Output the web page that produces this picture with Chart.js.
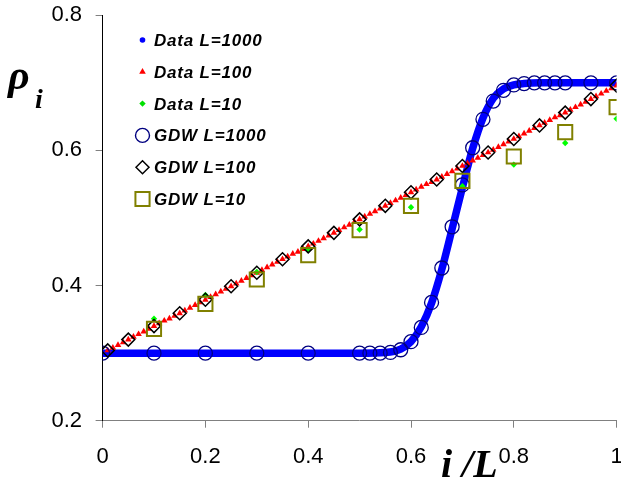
<!DOCTYPE html>
<html>
<head>
<meta charset="utf-8">
<script src="https://cdn.jsdelivr.net/npm/chart.js@4.4.1/dist/chart.umd.min.js"></script>
<style>
  html, body { margin: 0; padding: 0; background: #fff; }
  #wrap { position: relative; width: 621px; height: 492px; }
</style>
</head>
<body>
<div id="wrap"><canvas id="c" width="621" height="492"></canvas></div>
<script>
// ---- series names ----
const seriesNames = ["Data L=1000", "Data L=100", "Data L=10", "GDW L=1000", "GDW L=100", "GDW L=10"];

// ---- Data L=1000 (dense curve) ----
const dataL1000X = [0, 0.1, 0.2, 0.3, 0.4, 0.5, 0.55, 0.58, 0.6, 0.62, 0.64, 0.66, 0.68, 0.7, 0.71, 0.72, 0.74, 0.76, 0.78, 0.8, 0.82, 0.85, 0.9, 1.0];
const dataL1000Y = [0.3, 0.3, 0.3, 0.3, 0.3, 0.3, 0.301, 0.306, 0.317, 0.339, 0.374, 0.424, 0.484, 0.545, 0.575, 0.603, 0.648, 0.677, 0.691, 0.697, 0.699, 0.7, 0.7, 0.7];

// ---- Data L=100 ----
const dataL100X = [0.01,0.02,0.03,0.04,0.05,0.06,0.07,0.08,0.09,0.10,
  0.11,0.12,0.13,0.14,0.15,0.16,0.17,0.18,0.19,0.20,
  0.21,0.22,0.23,0.24,0.25,0.26,0.27,0.28,0.29,0.30,
  0.31,0.32,0.33,0.34,0.35,0.36,0.37,0.38,0.39,0.40,
  0.41,0.42,0.43,0.44,0.45,0.46,0.47,0.48,0.49,0.50,
  0.51,0.52,0.53,0.54,0.55,0.56,0.57,0.58,0.59,0.60,
  0.61,0.62,0.63,0.64,0.65,0.66,0.67,0.68,0.69,0.70,
  0.71,0.72,0.73,0.74,0.75,0.76,0.77,0.78,0.79,0.80,
  0.81,0.82,0.83,0.84,0.85,0.86,0.87,0.88,0.89,0.90,
  0.91,0.92,0.93,0.94,0.95,0.96,0.97,0.98,0.99,1.00];
const dataL100Y = [0.304,0.308,0.312,0.316,0.320,0.324,0.328,0.332,0.336,0.340,
  0.344,0.348,0.351,0.355,0.359,0.363,0.367,0.371,0.375,0.379,
  0.383,0.387,0.391,0.395,0.399,0.403,0.407,0.411,0.415,0.419,
  0.423,0.427,0.431,0.435,0.439,0.443,0.447,0.450,0.454,0.458,
  0.462,0.466,0.470,0.474,0.478,0.482,0.486,0.490,0.494,0.498,
  0.502,0.506,0.510,0.514,0.518,0.522,0.526,0.530,0.534,0.538,
  0.542,0.546,0.550,0.553,0.557,0.561,0.565,0.569,0.573,0.577,
  0.581,0.585,0.589,0.593,0.597,0.601,0.605,0.609,0.613,0.617,
  0.621,0.625,0.629,0.633,0.637,0.641,0.645,0.649,0.652,0.656,
  0.660,0.664,0.668,0.672,0.676,0.680,0.684,0.688,0.692,0.696];

// ---- Data L=10 ----
const dataL10X = [0.1, 0.2, 0.3, 0.4, 0.5, 0.6, 0.7, 0.8, 0.9, 1.0];
const dataL10Y = [0.351, 0.386, 0.420, 0.453, 0.483, 0.516, 0.547, 0.579, 0.611, 0.647];

// ---- GDW L=1000 ----
const gdwL1000X = [0, 0.1, 0.2, 0.3, 0.4, 0.5, 0.52, 0.54, 0.56, 0.58, 0.6, 0.62, 0.64, 0.66, 0.68, 0.7, 0.72, 0.74, 0.76, 0.78, 0.8, 0.82, 0.84, 0.86, 0.88, 0.9, 0.95, 1.0];
const gdwL1000Y = [0.3, 0.3, 0.3, 0.3, 0.3, 0.3, 0.3, 0.3, 0.301, 0.305, 0.317, 0.338, 0.375, 0.426, 0.487, 0.549, 0.604, 0.646, 0.673, 0.689, 0.697, 0.699, 0.7, 0.7, 0.7, 0.7, 0.7, 0.7];

// ---- GDW L=100 ----
const gdwL100X = [0.01, 0.05, 0.1, 0.15, 0.2, 0.25, 0.3, 0.35, 0.4, 0.45, 0.5, 0.55, 0.6, 0.65, 0.7, 0.75, 0.8, 0.85, 0.9, 0.95, 1.0];
const gdwL100Y = [0.304, 0.320, 0.340, 0.359, 0.379, 0.399, 0.419, 0.439, 0.458, 0.478, 0.498, 0.518, 0.538, 0.557, 0.577, 0.597, 0.617, 0.637, 0.656, 0.676, 0.696];

// ---- GDW L=10 ----
const gdwL10X = [0.1, 0.2, 0.3, 0.4, 0.5, 0.6, 0.7, 0.8, 0.9, 1.0];
const gdwL10Y = [0.336, 0.373, 0.409, 0.445, 0.482, 0.518, 0.555, 0.591, 0.627, 0.664];

// ---- axis ----
const xMin = 0, xMax = 1, xStep = 0.2;
const yMin = 0.2, yMax = 0.8, yStep = 0.2;

function pts(xs, ys) { return xs.map((x, i) => ({ x: x, y: ys[i] })); }
function fmt(v) { return String(Number(v.toFixed(2))); }

const styles = [
  { legend: { pointStyle: 'circle', radius: 2.8, fill: '#0000FF', stroke: '#0000FF', bw: 0 } },
  { legend: { pointStyle: 'triangle', radius: 3.8, fill: '#FF0000', stroke: '#FF0000', bw: 0 } },
  { legend: { pointStyle: 'rectRot', radius: 3.2, fill: '#00E000', stroke: '#00E000', bw: 0 } },
  { legend: { pointStyle: 'circle', radius: 7, fill: 'rgba(0,0,0,0)', stroke: '#000080', bw: 1.4 } },
  { legend: { pointStyle: 'rectRot', radius: 6.5, fill: 'rgba(0,0,0,0)', stroke: '#000000', bw: 1.5 } },
  { legend: { pointStyle: 'rect', radius: 10, fill: 'rgba(0,0,0,0)', stroke: '#808000', bw: 2 } }
];

const datasets = [
  { label: seriesNames[0], data: pts(dataL1000X, dataL1000Y), showLine: true, borderColor: '#0000FF', borderWidth: 7.5,
    pointRadius: 0, cubicInterpolationMode: 'monotone', order: 6 },
  { label: seriesNames[1], data: pts(dataL100X, dataL100Y), showLine: false, pointStyle: 'triangle', pointRadius: 3.8,
    backgroundColor: '#FF0000', borderColor: '#FF0000', borderWidth: 0, order: 5 },
  { label: seriesNames[2], data: pts(dataL10X, dataL10Y), showLine: false, pointStyle: 'rectRot', pointRadius: 3.2,
    backgroundColor: '#00FF00', borderColor: '#00FF00', borderWidth: 0, order: 4 },
  { label: seriesNames[3], data: pts(gdwL1000X, gdwL1000Y), showLine: false, pointStyle: 'circle', pointRadius: 7,
    backgroundColor: 'rgba(0,0,0,0)', borderColor: '#000080', borderWidth: 1.3, order: 3 },
  { label: seriesNames[4], data: pts(gdwL100X, gdwL100Y), showLine: false, pointStyle: 'rectRot', pointRadius: 6.5,
    backgroundColor: 'rgba(0,0,0,0)', borderColor: '#000000', borderWidth: 1.5, order: 2 },
  { label: seriesNames[5], data: pts(gdwL10X, gdwL10Y), showLine: false, pointStyle: 'rect', pointRadius: 10,
    backgroundColor: 'rgba(0,0,0,0)', borderColor: '#808000', borderWidth: 2, order: 1 }
];

const overlay = {
  id: 'overlay',
  afterDraw(chart) {
    const ctx = chart.ctx;
    ctx.save();
    // legend
    const legX = 142.5, legY0 = 40, legDy = 31.8, textX = 154;
    seriesNames.forEach((name, i) => {
      const y = legY0 + i * legDy;
      const lg = styles[i].legend;
      ctx.save();
      ctx.fillStyle = lg.fill;
      ctx.strokeStyle = lg.stroke;
      ctx.lineWidth = lg.bw;
      Chart.helpers.drawPoint(ctx, { pointStyle: lg.pointStyle, radius: lg.radius, rotation: 0, borderWidth: lg.bw }, legX, y);
      ctx.restore();
      ctx.fillStyle = '#000';
      ctx.font = 'italic bold 17px "Liberation Sans", Arial, sans-serif';
      ctx.textAlign = 'left';
      ctx.textBaseline = 'alphabetic';
      try { ctx.letterSpacing = '0.8px'; } catch (e) {}
      ctx.fillText(name, textX, y + 6);
      try { ctx.letterSpacing = '0px'; } catch (e) {}
    });
    // y title rho_i
    ctx.fillStyle = '#000';
    ctx.textAlign = 'left';
    ctx.textBaseline = 'alphabetic';
    ctx.font = 'italic bold 42px "Liberation Serif", "Times New Roman", serif';
    ctx.fillText('\u03C1', 8, 89);
    ctx.font = 'italic bold 28px "Liberation Serif", "Times New Roman", serif';
    ctx.fillText('i', 35, 108);
    // x title i/L
    ctx.font = 'italic bold 40px "Liberation Serif", "Times New Roman", serif';
    ctx.fillText('i /L', 441, 477);
    ctx.restore();
  }
};

new Chart(document.getElementById('c'), {
  type: 'scatter',
  data: { datasets: datasets },
  options: {
    responsive: false,
    animation: false,
    devicePixelRatio: 1,
    layout: { autoPadding: false, padding: { left: 0, right: 4.4, top: 15.3, bottom: 0 } },
    plugins: { legend: { display: false }, tooltip: { enabled: false } },
    scales: {
      x: {
        type: 'linear', min: xMin, max: xMax,
        ticks: { stepSize: xStep, color: '#000', padding: 16, callback: fmt,
          font: { family: '"Liberation Sans", Arial, sans-serif', size: 22 } },
        grid: { drawOnChartArea: false, drawTicks: true, tickLength: 7, color: '#808080' },
        border: { display: true, color: '#808080', width: 1 },
        afterFit(s) { s.height = 71.3; s.paddingLeft = 0; s.paddingRight = 0; }
      },
      y: {
        type: 'linear', min: yMin, max: yMax,
        ticks: { stepSize: yStep, color: '#000', padding: 13.5, callback: fmt,
          font: { family: '"Liberation Sans", Arial, sans-serif', size: 22 } },
        grid: { drawOnChartArea: false, drawTicks: true, tickLength: 7, color: '#808080' },
        border: { display: true, color: '#000000', width: 1 },
        afterFit(s) { s.width = 102.6; s.paddingTop = 0; s.paddingBottom = 0; }
      }
    }
  },
  plugins: [overlay]
});
</script>
</body>
</html>
